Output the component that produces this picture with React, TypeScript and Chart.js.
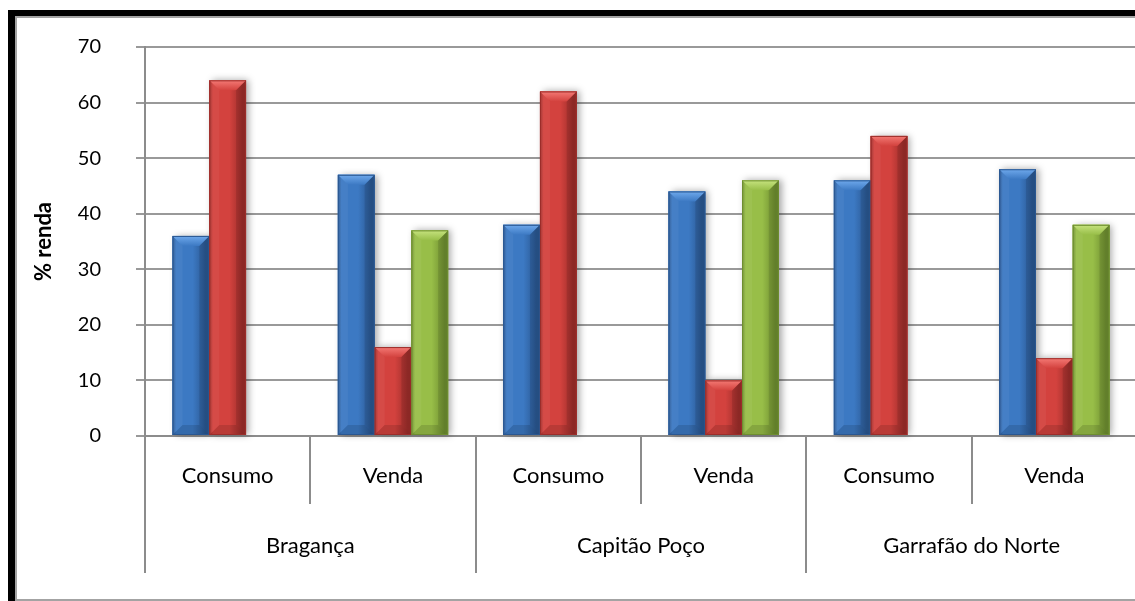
import React, { useEffect, useRef } from "react";
import { Chart, registerables } from "chart.js";

Chart.register(...registerables);

// Income share (%) by destination of production, per municipality
const subCategories = ["Consumo", "Venda", "Consumo", "Venda", "Consumo", "Venda"];
const municipalities = ["Bragança", "Capitão Poço", "Garrafão do Norte"];
const seriesBlue = [36, 47, 38, 44, 46, 48];
const seriesRed = [64, 16, 62, 10, 54, 14];
const seriesGreen: (number | null)[] = [null, 37, null, 46, null, 38];
const yTicks = [0, 10, 20, 30, 40, 50, 60, 70];

type Palette = { base: string; light: string; dark: string };
const palettes: Palette[] = [
  { base: "#3c79c3", light: "#6fa9ec", dark: "#2a5791" },
  { base: "#d3423e", light: "#f47a75", dark: "#9c2d2a" },
  { base: "#98be48", light: "#c6e37f", dark: "#6e8e30" },
];

const FONT = "Lato, 'Noto Sans', sans-serif";

function poly(ctx: CanvasRenderingContext2D, pts: number[][], fill: string | CanvasGradient) {
  ctx.beginPath();
  ctx.moveTo(pts[0][0], pts[0][1]);
  for (let i = 1; i < pts.length; i++) ctx.lineTo(pts[i][0], pts[i][1]);
  ctx.closePath();
  ctx.fillStyle = fill;
  ctx.fill();
}

function drawBevelBar(
  ctx: CanvasRenderingContext2D,
  left: number,
  right: number,
  top: number,
  bottom: number,
  pal: Palette
) {
  const w = right - left;
  const h = bottom - top;
  const b = Math.min(10, w / 3, h / 2);

  const body = ctx.createLinearGradient(left, 0, right, 0);
  body.addColorStop(0, pal.dark);
  body.addColorStop(0.1, pal.base);
  body.addColorStop(0.55, pal.base);
  body.addColorStop(0.9, pal.dark);
  body.addColorStop(1, pal.dark);
  ctx.fillStyle = body;
  ctx.fillRect(left, top, w, h);

  // top face
  const tg = ctx.createLinearGradient(0, top, 0, top + b);
  tg.addColorStop(0, pal.light);
  tg.addColorStop(1, pal.base);
  poly(ctx, [[left, top], [right, top], [right - b, top + b], [left + b, top + b]], tg);
  // left face
  poly(ctx, [[left, top], [left + b, top + b], [left + b, bottom - b], [left, bottom]], "rgba(255,255,255,0.05)");
  // right face
  poly(ctx, [[right, top], [right - b, top + b], [right - b, bottom - b], [right, bottom]], "rgba(0,0,0,0.10)");
  // bottom face
  poly(ctx, [[left, bottom], [right, bottom], [right - b, bottom - b], [left + b, bottom - b]], "rgba(0,0,0,0.12)");

  ctx.strokeStyle = pal.dark;
  ctx.lineWidth = 1;
  ctx.strokeRect(left + 0.5, top + 0.5, w - 1, h - 1);
}

const bevelPlugin = {
  id: "bevelBars",
  beforeDatasetsDraw(chart: any) {
    const ctx: CanvasRenderingContext2D = chart.ctx;
    ctx.save();
    chart.data.datasets.forEach((ds: any, di: number) => {
      const meta = chart.getDatasetMeta(di);
      meta.data.forEach((el: any, i: number) => {
        if (ds.data[i] == null) return;
        const { x, y, base, width } = el.getProps(["x", "y", "base", "width"], true);
        ctx.shadowColor = "rgba(0,0,0,0.35)";
        ctx.shadowBlur = 7;
        ctx.shadowOffsetX = 3;
        ctx.shadowOffsetY = 0;
        ctx.fillStyle = palettes[di].base;
        ctx.fillRect(x - width / 2, y, width, base - y);
      });
    });
    ctx.restore();
  },
  afterDatasetsDraw(chart: any) {
    const ctx: CanvasRenderingContext2D = chart.ctx;
    ctx.save();
    chart.data.datasets.forEach((ds: any, di: number) => {
      const meta = chart.getDatasetMeta(di);
      meta.data.forEach((el: any, i: number) => {
        if (ds.data[i] == null) return;
        const { x, y, base, width } = el.getProps(["x", "y", "base", "width"], true);
        drawBevelBar(ctx, x - width / 2, x + width / 2, y, base, palettes[di]);
      });
    });
    ctx.restore();
  },
};

// Two-level category axis: sub-category row and municipality row with separators
const groupAxisPlugin = {
  id: "groupAxis",
  afterDraw(chart: any) {
    const ctx: CanvasRenderingContext2D = chart.ctx;
    const x = chart.scales.x;
    const bottom = chart.chartArea.bottom;
    const catW = x.getPixelForValue(1) - x.getPixelForValue(0);
    const start = x.getPixelForValue(0) - catW / 2;
    ctx.save();
    ctx.strokeStyle = "#8c8c8c";
    ctx.lineWidth = 2;
    for (let i = 0; i <= subCategories.length; i++) {
      const px = Math.round(start + i * catW);
      const len = i % 2 === 0 ? 137 : 68;
      ctx.beginPath();
      ctx.moveTo(px, bottom);
      ctx.lineTo(px, bottom + len);
      ctx.stroke();
    }
    ctx.fillStyle = "#000";
    ctx.textAlign = "center";
    ctx.textBaseline = "alphabetic";
    ctx.font = `22px ${FONT}`;
    subCategories.forEach((lab, i) => {
      ctx.fillText(lab, start + (i + 0.5) * catW, bottom + 47);
    });
    municipalities.forEach((lab, g) => {
      ctx.fillText(lab, start + (g * 2 + 1) * catW, bottom + 117);
    });
    ctx.restore();
  },
};

export default function App() {
  const canvasRef = useRef<HTMLCanvasElement | null>(null);

  useEffect(() => {
    if (!canvasRef.current) return;
    const chart = new Chart(canvasRef.current, {
      type: "bar",
      data: {
        labels: subCategories,
        datasets: [
          { label: "Série 1", data: seriesBlue, backgroundColor: palettes[0].base },
          { label: "Série 2", data: seriesRed, backgroundColor: palettes[1].base },
          { label: "Série 3", data: seriesGreen, backgroundColor: palettes[2].base },
        ],
      },
      options: {
        responsive: false,
        animation: false,
        layout: { padding: { top: 46, left: 0, right: 3, bottom: 0 } },
        datasets: { bar: { categoryPercentage: 0.667, barPercentage: 1 } },
        plugins: { legend: { display: false }, tooltip: { enabled: false } },
        scales: {
          x: {
            grid: { display: false },
            border: { display: true, color: "#8c8c8c", width: 2 },
            ticks: { display: false },
            afterFit: (s: any) => {
              s.height = 165;
            },
          },
          y: {
            min: 0,
            max: 70,
            afterBuildTicks: (s: any) => {
              s.ticks = yTicks.map((v) => ({ value: v }));
            },
            ticks: { padding: 35, color: "#000", font: { family: FONT, size: 20 } },
            grid: { color: "#999999", lineWidth: 2, tickLength: 9, drawTicks: true },
            border: { color: "#8c8c8c", width: 2 },
            title: {
              display: true,
              text: "% renda",
              color: "#000",
              font: { family: FONT, size: 22, weight: "bold" },
              padding: { top: 31, bottom: 0 },
            },
            afterFit: (s: any) => {
              s.width = 145;
            },
          },
        },
      } as any,
      plugins: [bevelPlugin, groupAxisPlugin],
    });
    return () => chart.destroy();
  }, []);

  return (
    <div
      style={{
        position: "absolute",
        left: 0,
        top: 0,
        width: 1135,
        height: 601,
        overflow: "hidden",
        background: "#fff",
      }}
    >
      <div
        style={{
          position: "absolute",
          left: 8,
          top: 10,
          width: 1200,
          height: 700,
          borderLeft: "7px solid #000",
          borderTop: "6px solid #000",
          boxSizing: "border-box",
        }}
      />
      <div
        style={{
          position: "absolute",
          left: 15,
          top: 16,
          width: 1200,
          height: 585,
          borderLeft: "2px solid #a3a3a3",
          borderTop: "2px solid #a3a3a3",
          borderBottom: "2px solid #a3a3a3",
          boxSizing: "border-box",
        }}
      />
      <canvas
        ref={canvasRef}
        width={1140}
        height={601}
        style={{ position: "absolute", left: 0, top: 0, width: 1140, height: 601 }}
      />
    </div>
  );
}
